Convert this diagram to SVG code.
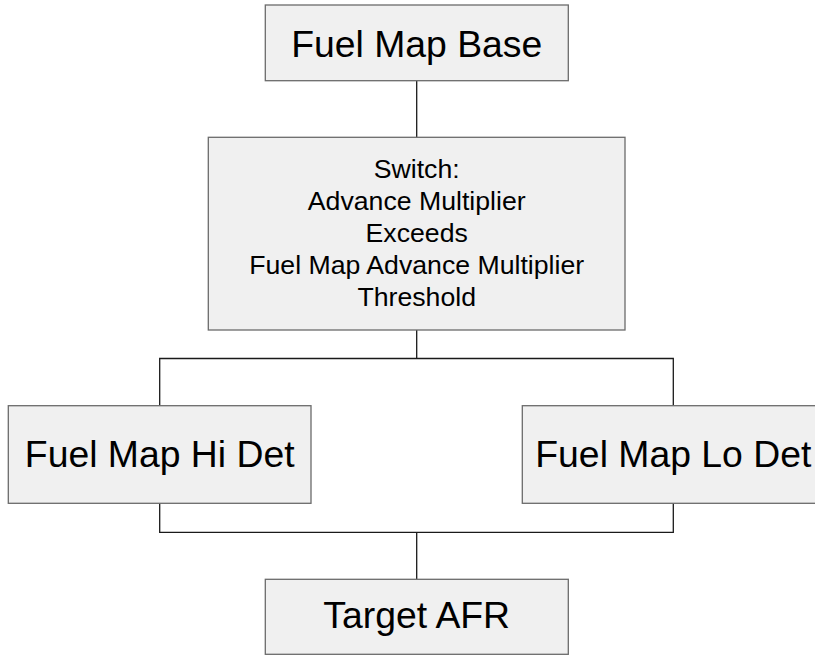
<svg xmlns="http://www.w3.org/2000/svg" width="815" height="655" viewBox="0 0 815 655">
<style>
.box{fill:#f0f0f0;stroke:#6b6b6b;stroke-width:1.3}
.big{font-family:"Liberation Sans",Arial,sans-serif;font-size:37.33px;fill:#000;text-anchor:middle}
.small{font-family:"Liberation Sans",Arial,sans-serif;font-size:26.67px;fill:#000;text-anchor:middle}
.conn{fill:none;stroke:#1a1a1a;stroke-width:1.3}
</style>
<rect width="815" height="655" fill="#fff"/>
<g id="connectors">
<path class="conn" d="M416.7 81 V137.3"/>
<path class="conn" d="M416.7 330 V358.5 M159.7 405.7 V358.5 H673.3 V405.7"/>
<path class="conn" d="M159.7 503.3 V532.3 H673.3 V503.3 M416.7 532.3 V579.3"/>
</g>
<g id="fuel-map-base">
<rect class="box" x="265.3" y="5" width="303" height="75.7"/>
<text class="big" x="416.7" y="56.5">Fuel Map Base</text>
</g>
<g id="switch">
<rect class="box" x="208.3" y="137.3" width="416.7" height="192.7"/>
<text class="small" x="416.7" y="178">Switch:</text>
<text class="small" x="416.7" y="210">Advance Multiplier</text>
<text class="small" x="416.7" y="242">Exceeds</text>
<text class="small" x="416.7" y="274">Fuel Map Advance Multiplier</text>
<text class="small" x="416.7" y="306">Threshold</text>
</g>
<g id="fuel-map-hi-det">
<rect class="box" x="8.3" y="405.7" width="302.7" height="97.6"/>
<text class="big" x="159.7" y="466.5">Fuel Map Hi Det</text>
</g>
<g id="fuel-map-lo-det">
<rect class="box" x="522.3" y="405.7" width="302" height="97.6"/>
<text class="big" x="673.3" y="466.5">Fuel Map Lo Det</text>
</g>
<g id="target-afr">
<rect class="box" x="265.3" y="579.3" width="303" height="75"/>
<text class="big" x="416.7" y="628">Target AFR</text>
</g>
</svg>
